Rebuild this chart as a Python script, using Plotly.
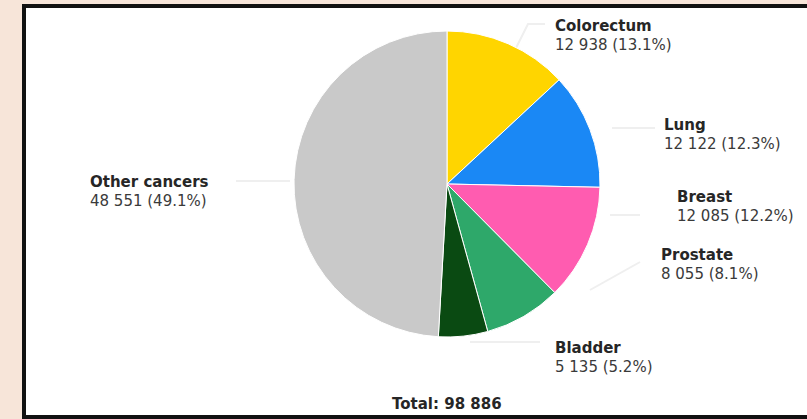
import plotly.graph_objects as go

# Cancer cases by site
sites = ["Colorectum", "Lung", "Breast", "Prostate", "Bladder", "Other cancers"]
cases = [12938, 12122, 12085, 8055, 5135, 48551]
colors = ["#FFD500", "#1A88F5", "#FF5CB0", "#2EA86A", "#0A4A12", "#C9C9C9"]

# label anchor (left edge, first-line centre) in pixels from the top-left of the page
label_px = {
    "Colorectum": (553, 26),
    "Lung": (662, 125),
    "Breast": (675, 197),
    "Prostate": (659, 255),
    "Bladder": (553, 348),
    "Other cancers": (88, 182),
}

W, H = 807, 419
total = sum(cases)
FONT = "DejaVu Sans"
SIZE = 15


def fmt(n):
    return f"{n:,}".replace(",", " ")


def px(x, y):
    return x / W, 1 - y / H


fig = go.Figure()

# pie centred at (447, 184) px, radius ~153 px
cx, cy, r = 447, 184, 153
fig.add_trace(go.Pie(
    labels=sites,
    values=cases,
    sort=False,
    direction="clockwise",
    rotation=0,
    marker=dict(colors=colors, line=dict(color="white", width=1)),
    textinfo="none",
    hoverinfo="label+value+percent",
    showlegend=False,
    domain=dict(x=[(cx - r) / W, (cx + r) / W], y=[(H - cy - r) / H, (H - cy + r) / H]),
))

annotations = []
for s, v in zip(sites, cases):
    x, y = px(*label_px[s])
    annotations.append(dict(
        xref="paper", yref="paper", x=x, y=y,
        xanchor="left", yanchor="middle", showarrow=False,
        text=f"<b>{s}</b>",
        font=dict(family=FONT, size=SIZE, color="#262626"),
    ))
    annotations.append(dict(
        xref="paper", yref="paper", x=x, y=y - 19 / H,
        xanchor="left", yanchor="middle", showarrow=False,
        text=f"{fmt(v)} ({v / total * 100:.1f}%)",
        font=dict(family=FONT, size=SIZE, color="#3a3a3a"),
    ))

tx, ty = px(447, 404)
annotations.append(dict(
    xref="paper", yref="paper", x=tx, y=ty, xanchor="center", yanchor="middle",
    showarrow=False, text=f"<b>Total: {fmt(total)}</b>",
    font=dict(family=FONT, size=SIZE, color="#262626"),
))

# faint leader lines from slices to their labels
leaders = [
    [(515, 50), (528, 24), (545, 24)],
    [(612, 128), (655, 128)],
    [(236, 181), (290, 181)],
    [(610, 215), (640, 215)],
    [(590, 290), (640, 262)],
    [(470, 342), (540, 342)],
]
shapes = [dict(
    type="rect", xref="paper", yref="paper",
    x0=24 / W, x1=1.05, y0=1 - 417 / H, y1=1 - 6 / H,
    line=dict(color="#111111", width=4), fillcolor="white", layer="below",
)]
for pts in leaders:
    path = "M " + " L ".join(f"{px(a, b)[0]},{px(a, b)[1]}" for a, b in pts)
    shapes.append(dict(type="path", xref="paper", yref="paper", path=path,
                       line=dict(color="#EFEFEF", width=2), layer="below"))

fig.update_layout(
    width=W, height=H,
    margin=dict(l=0, r=0, t=0, b=0),
    paper_bgcolor="#F7E5D9",
    plot_bgcolor="white",
    shapes=shapes,
    annotations=annotations,
)

fig.write_html("out.html")
